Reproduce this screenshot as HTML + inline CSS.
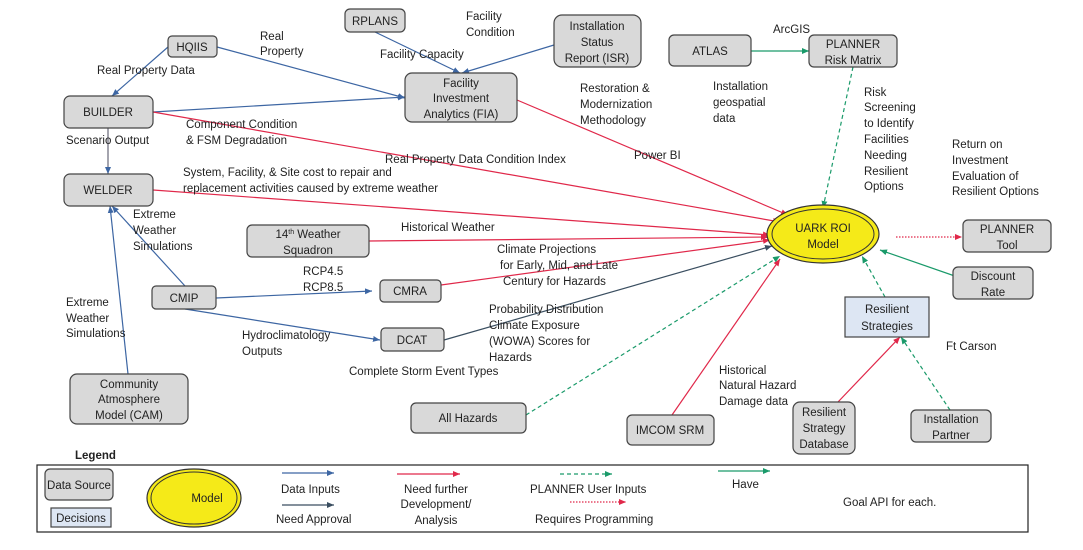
<!DOCTYPE html>
<html><head><meta charset="utf-8"><style>
body{margin:0;background:#fff}
svg{display:block}
text{font-family:"Liberation Sans",sans-serif;font-size:11.5px;fill:#222}
.b{fill:#d9d9d9;stroke:#444;stroke-width:1.2}
.d{fill:#dde6f3;stroke:#444;stroke-width:1.2}
.c{text-anchor:middle}
</style></head><body>
<svg width="1083" height="550" viewBox="0 0 1083 550">
<defs>
<marker id="ab" markerWidth="8" markerHeight="8" refX="7" refY="4" orient="auto" markerUnits="userSpaceOnUse"><path d="M0,1 L7,4 L0,7z" fill="#3d66a3"/></marker>
<marker id="ar" markerWidth="8" markerHeight="8" refX="7" refY="4" orient="auto" markerUnits="userSpaceOnUse"><path d="M0,1 L7,4 L0,7z" fill="#e0284a"/></marker>
<marker id="ag" markerWidth="8" markerHeight="8" refX="7" refY="4" orient="auto" markerUnits="userSpaceOnUse"><path d="M0,1 L7,4 L0,7z" fill="#1a9a6a"/></marker>
<marker id="ak" markerWidth="8" markerHeight="8" refX="7" refY="4" orient="auto" markerUnits="userSpaceOnUse"><path d="M0,1 L7,4 L0,7z" fill="#3a4e60"/></marker>
</defs>
<g fill="none" stroke-width="1.2">
<!-- blue -->
<path d="M168,47 L112,96" stroke="#3d66a3" marker-end="url(#ab)"/>
<path d="M217,47 L405,98" stroke="#3d66a3" marker-end="url(#ab)"/>
<path d="M153,112 L405,97" stroke="#3d66a3" marker-end="url(#ab)"/>
<path d="M375,32 L460,73" stroke="#3d66a3" marker-end="url(#ab)"/>
<path d="M554,45 L462,73" stroke="#3d66a3" marker-end="url(#ab)"/>
<path d="M108,128 L108,174" stroke="#667" marker-end="url(#ab)"/>
<path d="M185,286 L112,206" stroke="#3d66a3" marker-end="url(#ab)"/>
<path d="M128,374 L110,206" stroke="#3d66a3" marker-end="url(#ab)"/>
<path d="M216,298 L372,291" stroke="#3d66a3" marker-end="url(#ab)"/>
<path d="M185,309 L380,340" stroke="#3d66a3" marker-end="url(#ab)"/>
<path d="M444,340 L772,246" stroke="#3a4e60" marker-end="url(#ak)"/>
<!-- red -->
<path d="M153,112 L780,222" stroke="#e0284a" marker-end="url(#ar)"/>
<path d="M517,100 L788,215" stroke="#e0284a" marker-end="url(#ar)"/>
<path d="M153,190 L770,235" stroke="#e0284a" marker-end="url(#ar)"/>
<path d="M369,241 L768,237" stroke="#e0284a" marker-end="url(#ar)"/>
<path d="M441,285 L770,240" stroke="#e0284a" marker-end="url(#ar)"/>
<path d="M672,415 L780,259" stroke="#e0284a" marker-end="url(#ar)"/>
<path d="M838,402 L900,337" stroke="#e0284a" marker-end="url(#ar)"/>
<path d="M896,237 L962,237" stroke="#e0284a" stroke-dasharray="1.5,1.5" marker-end="url(#ar)"/>
<!-- green -->
<path d="M751,51 L809,51" stroke="#1a9a6a" marker-end="url(#ag)"/>
<path d="M853,67 L823,208" stroke="#1a9a6a" stroke-dasharray="4,3" marker-end="url(#ag)"/>
<path d="M526,415 L780,256" stroke="#1a9a6a" stroke-dasharray="4,3" marker-end="url(#ag)"/>
<path d="M885,297 L862,256" stroke="#1a9a6a" stroke-dasharray="4,3" marker-end="url(#ag)"/>
<path d="M950,410 L901,337" stroke="#1a9a6a" stroke-dasharray="4,3" marker-end="url(#ag)"/>
<path d="M972,282 L880,250" stroke="#1a9a6a" marker-end="url(#ag)"/>
</g>
<rect class="b" x="168" y="36" width="49" height="21" rx="4"/><text class="c" x="192" y="51">HQIIS</text>
<rect class="b" x="345" y="9" width="60" height="23" rx="5"/><text class="c" x="375" y="25">RPLANS</text>
<rect class="b" x="64" y="96" width="89" height="32" rx="6"/><text class="c" x="108" y="116">BUILDER</text>
<rect class="b" x="64" y="174" width="89" height="32" rx="6"/><text class="c" x="108" y="194">WELDER</text>
<rect class="b" x="405" y="73" width="112" height="49" rx="7"/><text class="c" x="461" y="87">Facility</text><text class="c" x="461" y="102">Investment</text><text class="c" x="461" y="118">Analytics (FIA)</text>
<rect class="b" x="554" y="15" width="87" height="52" rx="8"/><text class="c" x="597" y="30">Installation</text><text class="c" x="597" y="46">Status</text><text class="c" x="597" y="62">Report (ISR)</text>
<rect class="b" x="669" y="35" width="82" height="31" rx="5"/><text class="c" x="710" y="55">ATLAS</text>
<rect class="b" x="809" y="35" width="88" height="32" rx="5"/><text class="c" x="853" y="48">PLANNER</text><text class="c" x="853" y="64">Risk Matrix</text>
<ellipse cx="823" cy="234" rx="56" ry="29" fill="#f5ea18" stroke="#333" stroke-width="1.2"/><ellipse cx="823" cy="234" rx="51" ry="25" fill="none" stroke="#333"/>
<text class="c" x="823" y="232">UARK ROI</text><text class="c" x="823" y="248">Model</text>
<rect class="b" x="963" y="220" width="88" height="32" rx="5"/><text class="c" x="1007" y="233">PLANNER</text><text class="c" x="1007" y="249">Tool</text>
<rect class="b" x="953" y="267" width="80" height="32" rx="5"/><text class="c" x="993" y="280">Discount</text><text class="c" x="993" y="296">Rate</text>
<rect class="d" x="845" y="297" width="84" height="40"/><text class="c" x="887" y="313">Resilient</text><text class="c" x="887" y="330">Strategies</text>
<rect class="b" x="247" y="225" width="122" height="32" rx="5"/><text class="c" x="308" y="238">14<tspan font-size="7" dy="-4">th</tspan><tspan dy="4"> Weather</tspan></text><text class="c" x="308" y="254">Squadron</text>
<rect class="b" x="152" y="286" width="64" height="23" rx="4"/><text class="c" x="184" y="302">CMIP</text>
<rect class="b" x="380" y="280" width="61" height="22" rx="4"/><text class="c" x="410" y="295">CMRA</text>
<rect class="b" x="381" y="328" width="63" height="23" rx="4"/><text class="c" x="412" y="344">DCAT</text>
<rect class="b" x="70" y="374" width="118" height="50" rx="7"/><text class="c" x="129" y="388">Community</text><text class="c" x="129" y="403">Atmosphere</text><text class="c" x="129" y="419">Model (CAM)</text>
<rect class="b" x="411" y="403" width="115" height="30" rx="5"/><text class="c" x="468" y="422">All Hazards</text>
<rect class="b" x="627" y="415" width="87" height="30" rx="5"/><text class="c" x="670" y="434">IMCOM SRM</text>
<rect class="b" x="793" y="402" width="62" height="52" rx="7"/><text class="c" x="824" y="416">Resilient</text><text class="c" x="824" y="432">Strategy</text><text class="c" x="824" y="448">Database</text>
<rect class="b" x="911" y="410" width="80" height="32" rx="5"/><text class="c" x="951" y="423">Installation</text><text class="c" x="951" y="439">Partner</text>
<!-- labels -->
<text x="97" y="74">Real Property Data</text>
<text x="260" y="40">Real</text><text x="260" y="55">Property</text>
<text x="466" y="20">Facility</text><text x="466" y="36">Condition</text>
<text x="380" y="58">Facility Capacity</text>
<text x="66" y="144">Scenario Output</text>
<text x="186" y="128">Component Condition</text><text x="186" y="144">&amp; FSM Degradation</text>
<text x="385" y="163">Real Property Data Condition Index</text>
<text x="183" y="176">System, Facility, &amp; Site cost to repair and</text><text x="183" y="192">replacement activities caused by extreme weather</text>
<text x="133" y="218">Extreme</text><text x="133" y="234">Weather</text><text x="133" y="250">Simulations</text>
<text x="580" y="92">Restoration &amp;</text><text x="580" y="108">Modernization</text><text x="580" y="124">Methodology</text>
<text x="634" y="159">Power BI</text>
<text x="713" y="90">Installation</text><text x="713" y="106">geospatial</text><text x="713" y="122">data</text>
<text x="773" y="33">ArcGIS</text>
<text x="864" y="96">Risk</text><text x="864" y="111">Screening</text><text x="864" y="127">to Identify</text><text x="864" y="143">Facilities</text><text x="864" y="159">Needing</text><text x="864" y="175">Resilient</text><text x="864" y="190">Options</text>
<text x="952" y="148">Return on</text><text x="952" y="164">Investment</text><text x="952" y="180">Evaluation of</text><text x="952" y="195">Resilient Options</text>
<text x="401" y="231">Historical Weather</text>
<text x="497" y="253">Climate Projections</text><text x="500" y="269">for Early, Mid, and Late</text><text x="503" y="285">Century for Hazards</text>
<text x="303" y="275">RCP4.5</text><text x="303" y="291">RCP8.5</text>
<text x="66" y="306">Extreme</text><text x="66" y="322">Weather</text><text x="66" y="337">Simulations</text>
<text x="242" y="339">Hydroclimatology</text><text x="242" y="355">Outputs</text>
<text x="489" y="313">Probability Distribution</text><text x="489" y="329">Climate Exposure</text><text x="489" y="345">(WOWA) Scores for</text><text x="489" y="361">Hazards</text>
<text x="349" y="375">Complete Storm Event Types</text>
<text x="719" y="374">Historical</text><text x="719" y="389">Natural Hazard</text><text x="719" y="405">Damage data</text>
<text x="946" y="350">Ft Carson</text>
<!-- legend -->
<text x="75" y="459" font-weight="bold" font-size="11">Legend</text>
<rect x="37" y="465" width="991" height="67" fill="none" stroke="#222" stroke-width="1.2"/>
<rect class="b" x="45" y="469" width="68" height="31" rx="5"/><text class="c" x="79" y="489" font-size="11">Data Source</text>
<rect class="d" x="51" y="508" width="60" height="19"/><text class="c" x="81" y="522" font-size="11">Decisions</text>
<ellipse cx="194" cy="498" rx="47" ry="29" fill="#f5ea18" stroke="#333" stroke-width="1.2"/><ellipse cx="194" cy="498" rx="43" ry="26" fill="none" stroke="#333"/>
<text class="c" x="207" y="502" font-size="11">Model</text>
<g fill="none" stroke-width="1.2">
<path d="M282,473 L334,473" stroke="#3d66a3" marker-end="url(#ab)"/>
<path d="M282,505 L334,505" stroke="#3a4e60" marker-end="url(#ak)"/>
<path d="M397,474 L460,474" stroke="#e0284a" marker-end="url(#ar)"/>
<path d="M560,474 L612,474" stroke="#1a9a6a" stroke-dasharray="4,3" marker-end="url(#ag)"/>
<path d="M570,502 L626,502" stroke="#e0284a" stroke-dasharray="1.5,1.5" marker-end="url(#ar)"/>
<path d="M718,471 L770,471" stroke="#1a9a6a" marker-end="url(#ag)"/>
</g>
<text x="281" y="493" font-size="11">Data Inputs</text><text x="276" y="523" font-size="11">Need Approval</text>
<text class="c" x="436" y="493" font-size="11">Need further</text><text class="c" x="436" y="508" font-size="11">Development/</text><text class="c" x="436" y="524" font-size="11">Analysis</text>
<text x="530" y="493" font-size="11">PLANNER User Inputs</text><text x="535" y="523" font-size="11">Requires Programming</text>
<text x="732" y="488" font-size="11">Have</text>
<text x="843" y="506">Goal  API for each.</text>
</svg>
</body></html>
